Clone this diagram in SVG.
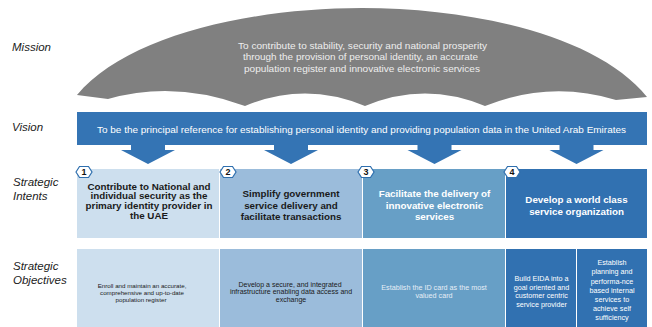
<svg xmlns="http://www.w3.org/2000/svg" xmlns:xlink="http://www.w3.org/1999/xlink" width="652" height="327" viewBox="0 0 652 327">
<style>
.lbl{font-family:"Liberation Sans",Arial,sans-serif;font-style:italic;font-size:11.5px;fill:#222}
.mis{font-family:"Liberation Sans",Arial,sans-serif;font-size:9.8px;fill:#eeeeee;text-anchor:middle}
.vis{font-family:"Liberation Sans",Arial,sans-serif;font-size:9.5px;fill:#ffffff;text-anchor:middle}
.it{font-family:"Liberation Sans",Arial,sans-serif;font-weight:bold;font-size:9.8px;text-anchor:middle}
.ob{font-family:"Liberation Sans",Arial,sans-serif;font-size:7.2px;text-anchor:middle}
.num{font-family:"Liberation Sans",Arial,sans-serif;font-weight:bold;font-size:9px;fill:#111;text-anchor:middle}
.dark{fill:#1a1a1a}
.lite{fill:#ffffff}
.c1{fill:#cddfee}
.c2{fill:#9bbcdb}
.c3{fill:#679fc6}
.c4{fill:#3171b1}
.arrow{fill:#3474b4}
.hex{fill:#ffffff;stroke:#2f6fae;stroke-width:1.2}
</style>
<defs>
<polygon id="hexshape" class="hex" points="-8,0 -4.5,-5.5 4.5,-5.5 8,0 4.5,5.5 -4.5,5.5"/>
<polygon id="darrow" class="arrow" points="-17,0 17,0 17,5 27,5 0,19 -27,5 -17,5"/>
</defs>

<g id="labels">
<text class="lbl" x="12" y="51">Mission</text>
<text class="lbl" x="12" y="131">Vision</text>
<text class="lbl" x="13" y="186">Strategic</text>
<text class="lbl" x="13" y="199.5">Intents</text>
<text class="lbl" x="13" y="270">Strategic</text>
<text class="lbl" x="13" y="283.5">Objectives</text>
</g>

<g id="mission">
<path fill="#808080" d="M77,95 C126,36 250,8 362,8 C474,8 598,36 647,97 L616,100 Q550,80 485,106 Q425,81 365,106 Q305,81 245,106 Q175,80 108,99 Z"/>
<text class="mis" x="362.5" y="48.5" textLength="249" lengthAdjust="spacingAndGlyphs">To contribute to stability, security and national prosperity</text>
<text class="mis" x="360.5" y="60" textLength="235" lengthAdjust="spacingAndGlyphs">through the provision of personal identity, an accurate</text>
<text class="mis" x="362" y="71.5" textLength="236" lengthAdjust="spacingAndGlyphs">population register and innovative electronic services</text>
</g>

<g id="vision">
<rect x="77" y="112" width="570" height="33" fill="#3474b4"/>
<text class="vis" x="361.5" y="132.5" textLength="529" lengthAdjust="spacingAndGlyphs">To be the principal reference for establishing personal identity and providing population data in the United Arab Emirates</text>
</g>

<g id="connectors">
<use xlink:href="#darrow" href="#darrow" x="148" y="145"/>
<use xlink:href="#darrow" href="#darrow" x="291" y="145"/>
<use xlink:href="#darrow" href="#darrow" x="434.5" y="145"/>
<use xlink:href="#darrow" href="#darrow" x="576.5" y="145"/>
</g>

<g id="intent1">
<rect class="c1" x="77" y="169" width="142" height="69"/>
<text class="it dark" x="149" y="189.5">Contribute to National and</text>
<text class="it dark" x="149" y="199.2">individual security as the</text>
<text class="it dark" x="149" y="208.9">primary identity provider in</text>
<text class="it dark" x="149" y="218.6">the UAE</text>
<use xlink:href="#hexshape" href="#hexshape" x="84" y="172"/>
<text class="num" x="84" y="175.3">1</text>
</g>

<g id="intent2">
<rect class="c2" x="220" y="169" width="142" height="69"/>
<text class="it dark" x="291" y="196.8">Simplify government</text>
<text class="it dark" x="291" y="208.5">service delivery and</text>
<text class="it dark" x="291" y="220.2">facilitate transactions</text>
<use xlink:href="#hexshape" href="#hexshape" x="228" y="172"/>
<text class="num" x="228" y="175.3">2</text>
</g>

<g id="intent3">
<rect class="c3" x="363" y="169" width="142" height="69"/>
<text class="it lite" x="434.5" y="196.8">Facilitate the delivery of</text>
<text class="it lite" x="434.5" y="208.5">innovative electronic</text>
<text class="it lite" x="434.5" y="220.2">services</text>
<use xlink:href="#hexshape" href="#hexshape" x="366" y="172"/>
<text class="num" x="366" y="175.3">3</text>
</g>

<g id="intent4">
<rect class="c4" x="506" y="169" width="141" height="69"/>
<text class="it lite" x="576.5" y="202.5">Develop a world class</text>
<text class="it lite" x="576.5" y="215">service organization</text>
<use xlink:href="#hexshape" href="#hexshape" x="512" y="172"/>
<text class="num" x="512" y="175.3">4</text>
</g>

<g id="objective1">
<rect class="c1" x="77" y="249" width="142" height="78"/>
<text class="ob dark" x="142" y="287.5" style="font-size:6.2px">Enroll and maintain an accurate,</text>
<text class="ob dark" x="142" y="294.7" style="font-size:6.2px">comprehensive and up-to-date</text>
<text class="ob dark" x="141" y="301.9" style="font-size:6.2px">population register</text>
</g>

<g id="objective2">
<rect class="c2" x="220" y="249" width="142" height="78"/>
<text class="ob dark" x="290" y="286.5" style="font-size:7px">Develop a secure, and integrated</text>
<text class="ob dark" x="291" y="294.4" style="font-size:7px">infrastructure enabling data access and</text>
<text class="ob dark" x="291" y="302.3" style="font-size:7px">exchange</text>
</g>

<g id="objective3">
<rect class="c3" x="363" y="249" width="142" height="78"/>
<text class="ob" x="434" y="289.5" fill="#e6eef6">Establish the ID card as the most</text>
<text class="ob" x="434" y="297.8" fill="#e6eef6">valued card</text>
</g>

<g id="objective4a">
<rect class="c4" x="506" y="249" width="70" height="78"/>
<text class="ob lite" x="541.5" y="280.8">Build EIDA into a</text>
<text class="ob lite" x="541.5" y="289.5">goal oriented and</text>
<text class="ob lite" x="541.5" y="298.2">customer centric</text>
<text class="ob lite" x="541.5" y="306.9">service provider</text>
</g>

<g id="objective4b">
<rect class="c4" x="577" y="249" width="70" height="78"/>
<text class="ob lite" x="612" y="264.5">Establish</text>
<text class="ob lite" x="612" y="274">planning and</text>
<text class="ob lite" x="612" y="283.5">performa-nce</text>
<text class="ob lite" x="612" y="292.5">based internal</text>
<text class="ob lite" x="612" y="301.7">services to</text>
<text class="ob lite" x="612" y="311">achieve self</text>
<text class="ob lite" x="612" y="320.3">sufficiency</text>
</g>
</svg>
